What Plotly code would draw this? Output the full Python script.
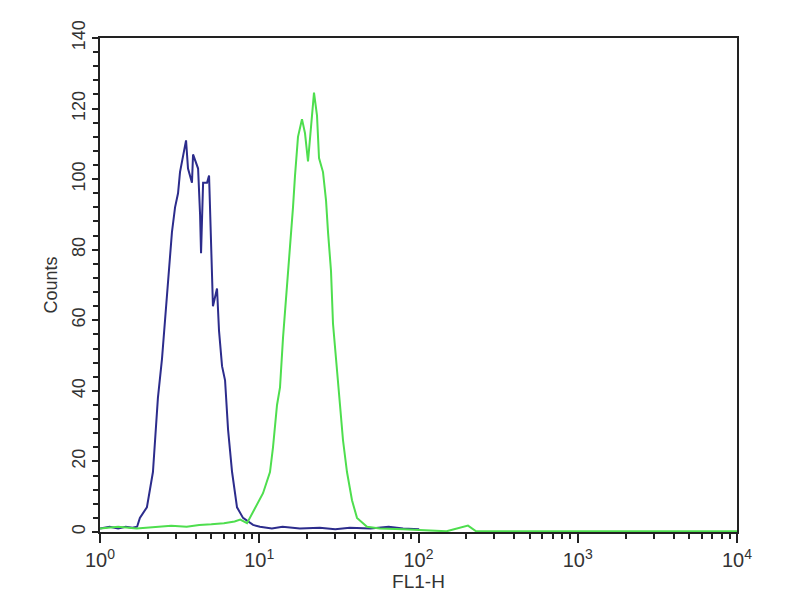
import plotly.graph_objects as go

# FL1-H values (log scale) and counts
blue_fl1 = [1.00, 1.15, 1.30, 1.45, 1.60, 1.71, 1.78, 1.97, 2.15, 2.31, 2.45, 2.56, 2.67, 2.83,
            2.96, 3.09, 3.18, 3.32, 3.47, 3.57, 3.78, 3.84, 4.07, 4.13, 4.25, 4.31, 4.44, 4.70,
            4.84, 4.98, 5.12, 5.43, 5.59, 5.84, 6.10, 6.37, 6.75, 7.25, 7.91, 9.14, 10.1, 12.0,
            14.0, 18.0, 24.0, 30.0, 37.0, 50.0, 65.0, 80.0, 101.0]
blue_counts = [1, 1.5, 1, 1.5, 1.2, 1.5, 4, 7, 17, 38, 49, 60, 73, 85,
               92, 96, 102, 107, 111, 103, 99, 107, 104, 103, 90, 79, 99, 99,
               101, 83, 64, 69, 57, 47, 43, 29, 17, 7, 4, 2, 1.5, 1,
               1.5, 1, 1.2, 0.8, 1.2, 1, 1.5, 1, 0.8]

green_fl1 = [1.00, 1.30, 1.70, 2.20, 2.80, 3.50, 4.20, 5.00, 6.00, 7.00, 7.60, 8.38, 9.68, 10.56,
             11.68, 12.20, 12.93, 13.50, 14.10, 14.51, 15.16, 15.60, 16.29, 16.77, 17.51, 18.55,
             19.38, 20.24, 21.45, 22.07, 23.05, 23.73, 25.14, 26.26, 27.03, 28.22, 29.05, 30.78,
             32.14, 33.57, 35.56, 38.23, 41.10, 47.5, 57.3, 80.0, 102.0, 150.0, 204.6, 230.0,
             500.0, 1000.0, 3000.0, 10000.0]
green_counts = [1, 1.5, 1, 1.5, 1.8, 1.5, 2, 2.2, 2.5, 3, 3.5, 2.5, 8, 11,
                17, 24, 36, 41, 55, 62, 73, 79, 92, 101, 112, 117,
                113, 105, 119, 124.5, 118, 106, 102, 94, 85, 74, 59, 47,
                36, 26, 17, 9, 4, 1.5, 1, 0.8, 0.5, 0.2, 1.8, 0.2,
                0.2, 0.2, 0.2, 0.2]

x_major = [1, 10, 100, 1000, 10000]
x_major_text = ["10<sup>0</sup>", "10<sup>1</sup>", "10<sup>2</sup>", "10<sup>3</sup>", "10<sup>4</sup>"]
x_minor = [d * m for d in [1, 10, 100, 1000] for m in range(2, 10)]

fig = go.Figure()
fig.add_trace(go.Scatter(x=blue_fl1, y=blue_counts, mode="lines",
                         line=dict(color="#2c2c8c", width=2), showlegend=False))
fig.add_trace(go.Scatter(x=green_fl1, y=green_counts, mode="lines",
                         line=dict(color="#4ede4e", width=2), showlegend=False))

font_family = "Liberation Sans, Arial, sans-serif"
fig.update_layout(
    width=792, height=592,
    margin=dict(l=92, r=63, t=24, b=68),
    paper_bgcolor="white", plot_bgcolor="white",
    font=dict(family=font_family, size=18, color="#333333"),
    showlegend=False,
)
fig.update_xaxes(
    type="log", range=[0, 4],
    tickmode="array", tickvals=x_major, ticktext=x_major_text,
    ticks="outside", ticklen=9, tickwidth=2, tickcolor="#222222",
    minor=dict(tickmode="array", tickvals=x_minor, ticks="outside", ticklen=5,
               tickwidth=2, tickcolor="#222222"),
    showline=True, linecolor="#222222", linewidth=2, mirror=True,
    showgrid=False, zeroline=False,
    tickfont=dict(size=20, color="#333333"),
    title=dict(text="FL1-H", font=dict(size=19, color="#333333"), standoff=2),
)
fig.update_yaxes(
    range=[0, 140], dtick=20, tick0=0,
    ticks="outside", ticklen=6, tickwidth=2, tickcolor="#222222",
    minor=dict(dtick=4, ticks="outside", ticklen=5, tickwidth=2, tickcolor="#222222"),
    tickangle=-90,
    showline=True, linecolor="#222222", linewidth=2, mirror=True,
    showgrid=False, zeroline=False,
    tickfont=dict(size=18, color="#333333"),
    title=dict(text="Counts", font=dict(size=18, color="#333333"), standoff=6),
)

fig.write_html("out.html")
